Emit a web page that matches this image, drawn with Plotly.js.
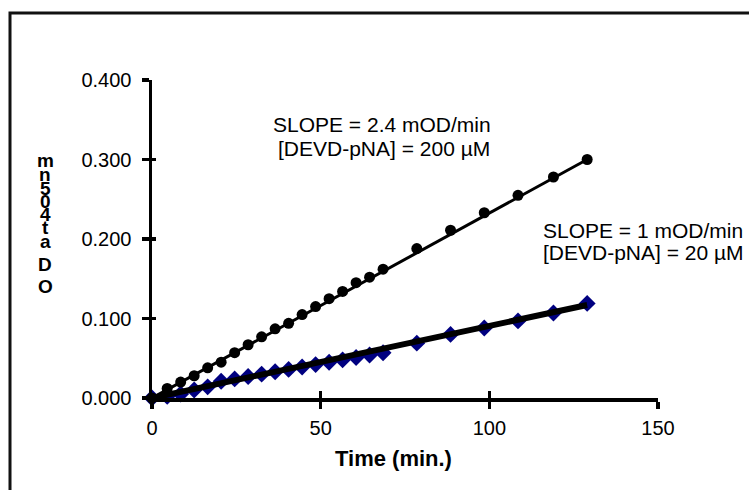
<!DOCTYPE html>
<html>
<head>
<meta charset="utf-8">
<script src="https://cdn.plot.ly/plotly-3.0.1.min.js"></script>
<style>
  html, body { margin: 0; padding: 0; background: #fff; }
  #chart { width: 749px; height: 490px; }
</style>
</head>
<body>
<div id="chart"></div>
<script>
// ---- data ----
const timeMin = [0, 4.5, 8.5, 12.5, 16.5, 20.5, 24.5, 28.5, 32.5, 36.5, 40.5, 44.5, 48.5, 52.5, 56.5, 60.5, 64.5, 68.5, 78.5, 88.5, 98.5, 108.5, 119, 129];
const odHigh  = [0, 0.012, 0.020, 0.028, 0.038, 0.045, 0.057, 0.067, 0.077, 0.087, 0.094, 0.105, 0.115, 0.125, 0.134, 0.145, 0.152, 0.162, 0.188, 0.211, 0.233, 0.255, 0.278, 0.300];
const odLow   = [0, 0.002, 0.005, 0.010, 0.014, 0.021, 0.024, 0.027, 0.030, 0.033, 0.036, 0.039, 0.042, 0.045, 0.048, 0.051, 0.054, 0.057, 0.069, 0.080, 0.088, 0.097, 0.107, 0.119];
const fitTime = [0, 129];
const fitHigh = [0, 0.300];
const fitLow  = [0, 0.117];
const yTicks = [0, 0.1, 0.2, 0.3, 0.4];
const xTicks = [0, 50, 100, 150];
const yTitleChars = ['m', 'n', '5', '0', '4', 't', 'a', 'D', 'O'];
const xTitle = 'Time (min.)';
const labelHigh = ['SLOPE = 2.4 mOD/min', '[DEVD-pNA] = 200 µM'];
const labelLow  = ['SLOPE = 1 mOD/min', '[DEVD-pNA] = 20 µM'];

// ---- layout geometry (pixels) ----
const W = 749, H = 490;
const M = { l: 152, r: 91, t: 80, b: 92 };
const pw = W - M.l - M.r, ph = H - M.t - M.b;
const px2x = p => (p - M.l) / pw;
const px2y = p => (H - M.b - p) / ph;

const FONT = '"Liberation Sans", Arial, sans-serif';

const traces = [
  { x: timeMin, y: odLow, type: 'scatter', mode: 'markers', cliponaxis: false,
    marker: { symbol: 'diamond', size: 13, color: '#000080', line: { width: 0 } }, hoverinfo: 'x+y' },
  { x: fitTime, y: fitLow, type: 'scatter', mode: 'lines', cliponaxis: false,
    line: { color: '#000000', width: 6 }, hoverinfo: 'skip' },
  { x: timeMin, y: odHigh, type: 'scatter', mode: 'markers', cliponaxis: false,
    marker: { symbol: 'circle', size: 11, color: '#000000', line: { width: 0 } }, hoverinfo: 'x+y' },
  { x: fitTime, y: fitHigh, type: 'scatter', mode: 'lines', cliponaxis: false,
    line: { color: '#000000', width: 3 }, hoverinfo: 'skip' },
  // invisible helper on overlay axes (for crossing tick marks)
  { x: [0], y: [0], xaxis: 'x2', yaxis: 'y2', type: 'scatter', mode: 'markers',
    marker: { opacity: 0 }, hoverinfo: 'skip' }
];

const annotations = [];
const yCharPx = [160, 174, 188, 201, 214, 227, 241, 264, 286];
yTitleChars.forEach((c, i) => {
  annotations.push({ text: c, xref: 'paper', yref: 'paper', x: px2x(45), y: px2y(yCharPx[i]),
    xanchor: 'center', yanchor: 'middle', showarrow: false,
    font: { family: FONT, size: 19, color: '#000', weight: 'bold' } });
});
annotations.push({ text: xTitle, xref: 'paper', yref: 'paper', x: px2x(393), y: px2y(458),
  xanchor: 'center', yanchor: 'middle', showarrow: false,
  font: { family: FONT, size: 22, color: '#000', weight: 'bold' } });
const hiPx = [[382, 124], [384, 148]];
labelHigh.forEach((t, i) => {
  annotations.push({ text: t, xref: 'paper', yref: 'paper', x: px2x(hiPx[i][0]), y: px2y(hiPx[i][1]),
    xanchor: 'center', yanchor: 'middle', showarrow: false,
    font: { family: FONT, size: 21, color: '#000' } });
});
const loPx = [[541, 230], [541, 252]];
labelLow.forEach((t, i) => {
  annotations.push({ text: t, xref: 'paper', yref: 'paper', x: px2x(loPx[i][0]), y: px2y(loPx[i][1]),
    xanchor: 'left', yanchor: 'middle', showarrow: false,
    font: { family: FONT, size: 21, color: '#000' } });
});

const axisCommon = {
  showgrid: false, zeroline: false, showline: true, linecolor: '#000', linewidth: 3.5,
  ticks: 'outside', ticklen: 7, tickwidth: 3.5, tickcolor: '#000',
  tickfont: { family: FONT, size: 20, color: '#000' }, fixedrange: true
};

const layout = {
  width: W, height: H,
  margin: M,
  paper_bgcolor: '#fff', plot_bgcolor: '#fff',
  showlegend: false,
  font: { family: FONT, color: '#000' },
  xaxis: Object.assign({}, axisCommon, {
    range: [0, 150], tickmode: 'array', tickvals: xTicks, ticktext: xTicks.map(String),
    ticklabelstandoff: 2
  }),
  yaxis: Object.assign({}, axisCommon, {
    range: [0, 0.4], tickmode: 'array', tickvals: yTicks, ticktext: yTicks.map(v => v.toFixed(3)),
    ticklabelstandoff: 6
  }),
  xaxis2: { overlaying: 'x', range: [0, 150], tickmode: 'array', tickvals: xTicks, showticklabels: false,
    ticks: 'inside', ticklen: 7, tickwidth: 3.5, tickcolor: '#000', showgrid: false, zeroline: false,
    showline: false, fixedrange: true },
  yaxis2: { overlaying: 'y', range: [0, 0.4], tickmode: 'array', tickvals: yTicks, showticklabels: false,
    ticks: 'inside', ticklen: 4, tickwidth: 3.5, tickcolor: '#000', showgrid: false, zeroline: false,
    showline: false, fixedrange: true },
  shapes: [
    { type: 'rect', xref: 'paper', yref: 'paper', x0: px2x(10), x1: px2x(W + 20), y0: px2y(H + 20), y1: px2y(13),
      line: { color: '#111', width: 3 }, fillcolor: 'rgba(0,0,0,0)', layer: 'below' }
  ],
  annotations: annotations
};

Plotly.newPlot('chart', traces, layout, { displayModeBar: false, staticPlot: true });
</script>
</body>
</html>
